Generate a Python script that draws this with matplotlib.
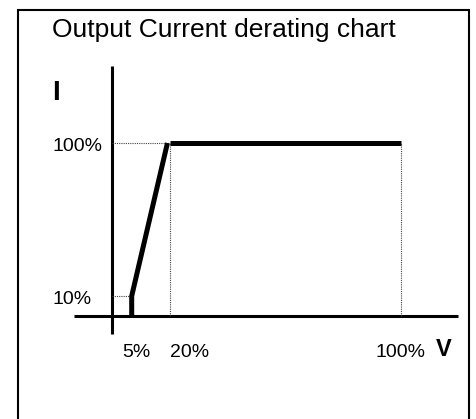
import numpy as np
import matplotlib
matplotlib.use("Agg")
import matplotlib.pyplot as plt
from matplotlib.patches import Rectangle

# ---- data ----
title = "Output Current derating chart"
ramp_v = [5, 5, 19]          # % of V
ramp_i = [0, 10, 100]        # % of I
flat_v = [20, 100]
flat_i = [100, 100]
x_ticks = [5, 20, 100]
x_tick_labels = ["5%", "20%", "100%"]
y_ticks = [10, 100]
y_tick_labels = ["10%", "100%"]

W, H = 476, 419
plt.rcParams['font.family'] = ['Liberation Sans', 'DejaVu Sans']

# schematic (non-linear) axis scales: piecewise linear knots -> pixel
def make_pw(xp, fp):
    xp = np.asarray(xp, float); fp = np.asarray(fp, float)
    s0 = (fp[1] - fp[0]) / (xp[1] - xp[0])
    s1 = (fp[-1] - fp[-2]) / (xp[-1] - xp[-2])
    def f(x):
        x = np.asarray(x, float)
        y = np.interp(x, xp, fp)
        y = np.where(x < xp[0], fp[0] + (x - xp[0]) * s0, y)
        y = np.where(x > xp[-1], fp[-1] + (x - xp[-1]) * s1, y)
        return y
    def g(y):
        y = np.asarray(y, float)
        x = np.interp(y, fp, xp)
        x = np.where(y < fp[0], xp[0] + (y - fp[0]) / s0, x)
        x = np.where(y > fp[-1], xp[-1] + (y - fp[-1]) / s1, x)
        return x
    return f, g

fx, gx = make_pw([0, 5, 20, 100], [112.3, 131.7, 170.0, 400.7])
fy, gy = make_pw([0, 10, 100], [-316.0, -296.0, -143.0])

fig = plt.figure(figsize=(W / 100, H / 100), dpi=100)
ax = fig.add_axes([0, 0, 1, 1])
ax.set_xscale('function', functions=(fx, gx))
ax.set_yscale('function', functions=(fy, gy))
ax.set_xlim(float(gx(0)), float(gx(W)))
ax.set_ylim(float(gy(-H)), float(gy(0)))
ax.axis('off')

# border box (bottom runs off the image)
fig.patches.append(Rectangle((18.3 / W, -0.1), (468.7 - 18.3) / W, 1.1 - 10.3 / H,
                             transform=fig.transFigure, fill=False,
                             edgecolor='black', linewidth=1.5))

# axes
ax.axhline(0, xmin=74 / W, xmax=458 / W, color='black', lw=2.2, solid_capstyle='butt')
ax.axvline(0, ymin=1 - 334 / H, ymax=1 - 66 / H, color='black', lw=2.2, solid_capstyle='butt')

# dotted guide lines
dot = dict(color='#444444', lw=0.8, linestyle=(0, (1, 1)))
ax.plot([0, ramp_v[1]], [ramp_i[1], ramp_i[1]], **dot)
ax.plot([0, flat_v[0]], [flat_i[0], flat_i[0]], **dot)
ax.plot([flat_v[0], flat_v[0]], [0, flat_i[0]], **dot)
ax.plot([flat_v[-1], flat_v[-1]], [0, flat_i[-1]], **dot)

# derating curve
ax.plot(ramp_v, ramp_i, color='black', lw=3.6, solid_capstyle='butt', solid_joinstyle='miter')
ax.plot(flat_v, flat_i, color='black', lw=3.6, solid_capstyle='butt')

# tick labels
x_off = [5, 20, 0]
for v, lab, o in zip(x_ticks, x_tick_labels, x_off):
    ax.annotate(lab, xy=(v, 0), xycoords='data', xytext=(o, -41),
                textcoords='offset pixels', ha='center', va='baseline', fontsize=14)
for v, lab in zip(y_ticks, y_tick_labels):
    ax.annotate(lab, xy=(52, v), xycoords=('figure pixels', 'data'), xytext=(0, -7.5),
                textcoords='offset pixels', ha='left', va='baseline', fontsize=14)

# axis names and title
fig.text(52 / W, 1 - 100 / H, "I", fontsize=20, fontweight='bold', ha='left', va='baseline')
fig.text(444 / W, 1 - 356 / H, "V", fontsize=17, fontweight='bold', ha='center', va='baseline')
fig.text(52 / W, 1 - 37.3 / H, title, fontsize=19, ha='left', va='baseline')

fig.savefig("out.png", dpi=100)
